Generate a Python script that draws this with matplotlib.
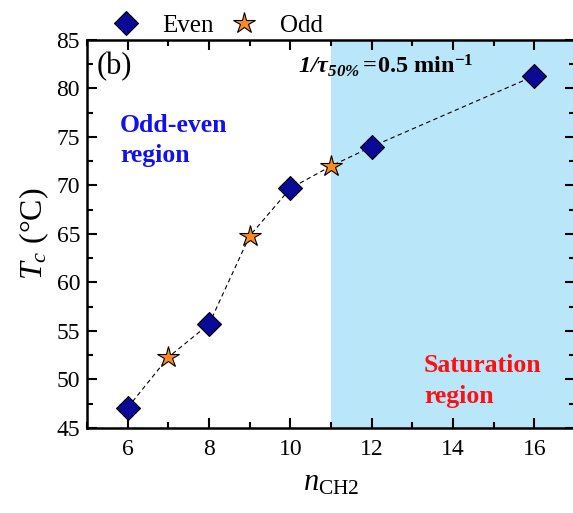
import matplotlib
matplotlib.use("Agg")
import matplotlib.pyplot as plt
from matplotlib.ticker import MultipleLocator

plt.rcParams['font.family'] = ['Liberation Serif', 'DejaVu Serif']
plt.rcParams['mathtext.fontset'] = 'custom'
plt.rcParams['mathtext.rm'] = 'Liberation Serif'
plt.rcParams['mathtext.it'] = 'Liberation Serif:italic'
plt.rcParams['mathtext.bf'] = 'Liberation Serif:bold'
plt.rcParams['mathtext.sf'] = 'Liberation Serif:italic:bold'

n_even = [6, 8, 10, 12, 16]
tc_even = [47.1, 55.7, 69.7, 74.0, 81.3]
n_odd = [7, 9, 11]
tc_odd = [52.3, 64.8, 72.0]
n_all = [6, 7, 8, 9, 10, 11, 12, 16]
tc_all = [47.1, 52.3, 55.7, 64.8, 69.7, 72.0, 74.0, 81.3]
sat_start = 11

fig = plt.figure(figsize=(5.73, 5.13), dpi=100)
W, H = 573, 513
ax = fig.add_axes([87 / W, 1 - 428 / H, (575 - 87) / W, (428 - 40) / H])

ax.axvspan(sat_start, 17, color='#BAE6FA', zorder=0, lw=0)
ax.plot(n_all, tc_all, ls=(0, (4, 3)), color='black', lw=0.8, zorder=2)
ax.plot(n_even, tc_even, ls='none', marker='D', ms=12, mfc='#0A0A96',
        mec='black', mew=0.8, zorder=3, label='Even')
ax.plot(n_odd, tc_odd, ls='none', marker='*', ms=16, mfc='#FF8A1C',
        mec='black', mew=0.8, zorder=3, label='Odd')

ax.set_xlim(5, 17)
ax.set_ylim(45, 85)
ax.xaxis.set_major_locator(MultipleLocator(2))
ax.xaxis.set_minor_locator(MultipleLocator(1))
ax.yaxis.set_major_locator(MultipleLocator(5))
ax.yaxis.set_minor_locator(MultipleLocator(2.5))
ax.tick_params(which='both', direction='in', top=True, right=True,
               labelsize=17, width=1.5)
ax.tick_params(which='major', length=7)
ax.tick_params(which='minor', length=4)
ax.tick_params(axis='x', pad=8)
ax.tick_params(axis='y', pad=5)
for s in ax.spines.values():
    s.set_linewidth(1.8)

ax.set_xlabel(r'$\mathit{n}_{\mathrm{CH2}}$', fontsize=22, labelpad=6)
ax.set_ylabel(r'$\mathit{T}_{c}$ (°C)', fontsize=23, labelpad=4)

ax.text(0.0205, 0.912, '(b)', transform=ax.transAxes, fontsize=22,
        va='baseline', ha='left')
ax.text(0.432, 0.915,
        r'$\mathsf{1/\tau}_{\mathsf{50\%}}\mathbf{=}\!\mathbf{0.5\ min}^{\mathbf{-1}}$',
        transform=ax.transAxes, fontsize=17.5, va='baseline', ha='left')
ax.text(0.0676, 0.763, 'Odd-even', transform=ax.transAxes, fontsize=18.5,
        fontweight='bold', color='#1010F0', va='baseline', ha='left')
ax.text(0.0676, 0.686, 'region', transform=ax.transAxes, fontsize=18.5,
        fontweight='bold', color='#1010F0', va='baseline', ha='left')
ax.text(0.6906, 0.144, 'Saturation', transform=ax.transAxes, fontsize=18.5,
        fontweight='bold', color='#FF1010', va='baseline', ha='left')
ax.text(0.6906, 0.064, 'region', transform=ax.transAxes, fontsize=18.5,
        fontweight='bold', color='#FF1010', va='baseline', ha='left')

leg = ax.legend(loc='lower left', bbox_to_anchor=(0.029, 0.983), ncol=2,
                frameon=False, fontsize=18, handlelength=1.2, handletextpad=0.84,
                columnspacing=0.6, borderaxespad=0)

fig.savefig('out.png', dpi=100)
